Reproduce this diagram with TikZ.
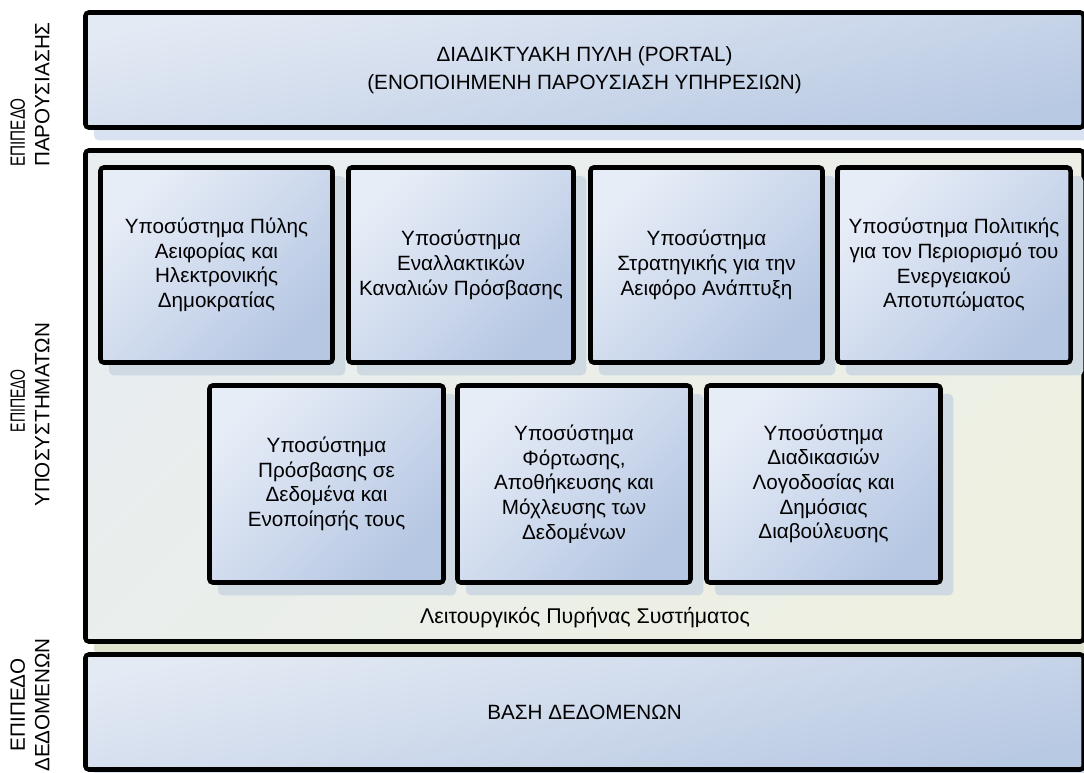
\documentclass[tikz,border=0pt]{standalone}
\usepackage{fontspec}
\setmainfont{Liberation Sans}
\usetikzlibrary{shadows}
\definecolor{laylight}{HTML}{E4EAF4}
\definecolor{laydark}{HTML}{B8C9E3}
\definecolor{sublight}{HTML}{E7EDF7}
\definecolor{subdark}{HTML}{B6C7E3}
\definecolor{corelight}{HTML}{E8EDF0}
\definecolor{coredark}{HTML}{EEF0E2}
\definecolor{subshadow}{HTML}{CFD9E1}
\definecolor{layshadow}{HTML}{D8E2F1}
\definecolor{coreshadow}{HTML}{DFE3CF}
\newcommand{\fs}{\fontsize{15.5pt}{18.5pt}\selectfont}
\newcommand{\fk}{\fontsize{16pt}{19pt}\selectfont}
\tikzset{
  sz/.style 2 args={minimum width=#1*0.75pt, minimum height=#2*0.75pt},
  boxbase/.style={draw=black, line width=3.4pt, rounded corners=2.5pt, inner sep=0pt,
    align=center, font=\fs, text=black},
  layerbox/.style={boxbase, top color=laylight, bottom color=laydark, shading angle=12,
    drop shadow={shadow xshift=8pt, shadow yshift=-8pt, fill=layshadow, draw=layshadow,
      line width=3.4pt, opacity=1}},
  corebox/.style={boxbase, top color=corelight, bottom color=coredark, shading angle=45,
    drop shadow={shadow xshift=8pt, shadow yshift=-8pt, fill=coreshadow, draw=coreshadow,
      line width=3.4pt, opacity=1}},
  subbox/.style={boxbase, top color=sublight, bottom color=subdark, shading angle=45,
    drop shadow={shadow xshift=8pt, shadow yshift=-8pt, fill=subshadow, draw=subshadow,
      line width=3.4pt, opacity=1}},
  sidelabel/.style={rotate=90, inner sep=0pt, font=\fs, text=black},
  plain/.style={inner sep=0pt, font=\fk, text=black, align=center}
}
\begin{document}
\begin{tikzpicture}[x=0.75pt,y=-0.75pt]
\useasboundingbox (0,0) rectangle (1084,773);
\fill[white] (0,0) rectangle (1084,773);
% layers
\node[layerbox, sz={998}{115}] (pres) at (584.5,70)
  {ΔΙΑΔΙΚΤΥΑΚΗ ΠΥΛΗ (PORTAL)\\[3pt](ΕΝΟΠΟΙΗΜΕΝΗ ΠΑΡΟΥΣΙΑΣΗ ΥΠΗΡΕΣΙΩΝ)};
\node[corebox, sz={998}{491}] (core) at (584.5,396) {};
\node[layerbox, sz={998}{115}] (data) at (584.5,712) {ΒΑΣΗ ΔΕΔΟΜΕΝΩΝ};
% subsystems row 1
\node[subbox, sz={232}{195}] (b1) at (216.5,265)
  {Υποσύστημα Πύλης\\Αειφορίας και\\Ηλεκτρονικής\\Δημοκρατίας};
\node[subbox, sz={225}{195}] (b2) at (461,265)
  {Υποσύστημα\\Εναλλακτικών\\Καναλιών Πρόσβασης};
\node[subbox, sz={232}{195}] (b3) at (706.5,265)
  {Υποσύστημα\\Στρατηγικής για την\\Αειφόρο Ανάπτυξη};
\node[subbox, sz={233}{195}] (b4) at (954,265)
  {Υποσύστημα Πολιτικής\\για τον Περιορισμό του\\Ενεργειακού\\Αποτυπώματος};
% subsystems row 2
\node[subbox, sz={234}{197}] (b5) at (326.5,484)
  {Υποσύστημα\\Πρόσβασης σε\\Δεδομένα και\\Ενοποίησής τους};
\node[subbox, sz={233}{197}] (b6) at (574,484)
  {Υποσύστημα\\Φόρτωσης,\\Αποθήκευσης και\\Μόχλευσης των\\Δεδομένων};
\node[subbox, sz={234}{197}] (b7) at (823.5,484)
  {Υποσύστημα\\Διαδικασιών\\Λογοδοσίας και\\Δημόσιας\\Διαβούλευσης};
\node[plain] (kernel) at (585,618) {Λειτουργικός Πυρήνας Συστήματος};
% side labels
\node[sidelabel, align=left, anchor=west] (lpres) at (30,167)
  {\scalebox{0.74}[1]{ΕΠΙΠΕΔΟ}\\ΠΑΡΟΥΣΙΑΣΗΣ};
\node[sidelabel, align=left, anchor=west] (lsub) at (30,507)
  {\hspace*{56pt}\scalebox{0.68}[1]{ΕΠΙΠΕΔΟ}\\ΥΠΟΣΥΣΤΗΜΑΤΩΝ};
\node[sidelabel, align=center] (ldata) at (30,705) {ΕΠΙΠΕΔΟ\\ΔΕΔΟΜΕΝΩΝ};
\end{tikzpicture}
\end{document}
